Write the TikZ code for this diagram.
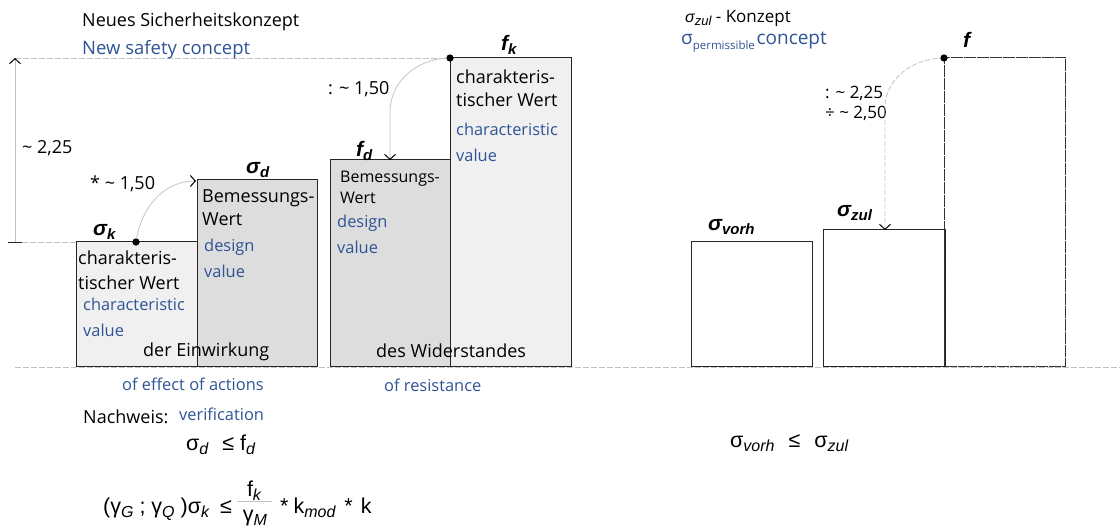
\documentclass[tikz,border=0pt]{standalone}
\usepackage{fontspec}
\setmainfont{Open Sans}
\newfontfamily\arialf{Liberation Sans}
\usetikzlibrary{arrows.meta}
\definecolor{engblue}{RGB}{47,84,150}
\definecolor{lightbox}{RGB}{240,240,240}
\definecolor{darkbox}{RGB}{221,221,221}
\definecolor{guide}{RGB}{195,195,195}
\newcommand\symlab[2]{{\arialf\bfseries\itshape\fontsize{21}{21}\selectfont #1\raisebox{-0.22em}{\fontsize{15}{15}\selectfont #2}}}
\newcommand\isub[1]{\raisebox{-0.22em}{\fontsize{16}{16}\selectfont\itshape #1}}
\tikzset{
  bar/.style={draw=black!85, line width=1.3pt, inner sep=0pt, anchor=south west},
  txt/.style={anchor=base west, inner sep=0pt, font=\fontsize{18}{20}\selectfont},
  smtxt/.style={anchor=base west, inner sep=0pt, font=\fontsize{16}{18}\selectfont},
  entxt/.style={anchor=base west, inner sep=0pt, text=engblue, font=\fontsize{16.4}{18}\selectfont},
  sym/.style={anchor=base west, inner sep=0pt},
  formula/.style={anchor=base west, inner sep=0pt, font=\arialf\fontsize{21.5}{24}\selectfont},
  dot/.style={circle, fill=black, inner sep=0pt, minimum size=7pt},
  guideline/.style={draw=guide, line width=0.8pt},
  dashguide/.style={guideline, dash pattern=on 6pt off 2pt},
  tipend/.style={-{Straight Barb[length=5pt,width=11pt,line width=1pt,color=black]}},
}
\begin{document}
\begin{tikzpicture}[x=1pt,y=-1pt]
\useasboundingbox (0,0) rectangle (1120,530);

% guide lines
\coordinate (dimlow) at (15,242);
\coordinate (dimtop) at (15,58);
\coordinate (ticka) at (8,242);
\coordinate (tickb) at (22,242);
\coordinate (basea) at (15,367);
\coordinate (baseb) at (1120,367);
\draw[dashguide] (basea) -- (baseb);
\draw[dashguide] (tickb) -- (76,242);
\draw[dashguide] (dimtop) -- (450,58);
\draw[guideline, tipend] (dimlow) -- (dimtop);
\draw[black!85, line width=1pt] (ticka) -- (tickb);

% left: actions
\node[bar, fill=lightbox, minimum width=121pt, minimum height=125pt] (sk) at (76,367) {};
\node[bar, fill=darkbox, minimum width=120pt, minimum height=187pt] (sd) at (197,367) {};
% resistance
\node[bar, fill=darkbox, minimum width=120pt, minimum height=207pt] (fd) at (330,367) {};
\node[bar, fill=lightbox, minimum width=121pt, minimum height=309pt] (fk) at (450,367) {};
% right
\node[bar, fill=white, minimum width=121pt, minimum height=125pt] (sv) at (691,367) {};
\node[bar, fill=white, minimum width=121pt, minimum height=137pt] (sz) at (823,367) {};
\node[bar, draw=black!80, dash pattern=on 12pt off 1pt, minimum width=121pt, minimum height=309pt] (ff) at (944,367) {};
\draw[black!85, line width=1.3pt] (sz.north east) -- (sz.south east);

% titles
\node[txt] (t1) at (82,27) {Neues Sicherheitskonzept};
\node[entxt, font=\fontsize{18.5}{20}\selectfont] (t2) at (82,54) {New safety concept};
\node[sym] (t3) at (685,22) {{\arialf\itshape\fontsize{16}{16}\selectfont σ\raisebox{-0.22em}{\fontsize{13}{13}\selectfont zul}}\fontsize{17}{18}\selectfont{} - Konzept};
\node[sym, text=engblue] (t4) at (681,45) {{\fontsize{19}{19}\selectfont σ}\raisebox{-0.42em}{\fontsize{11.5}{12}\selectfont permissible}\,{\fontsize{19}{19}\selectfont concept}};

% box texts
\node[txt] (sk1) at (78,264) {charakteris-};
\node[txt] (sk2) at (78,289) {tischer Wert};
\node[entxt] (sk3) at (83,310) {characteristic};
\node[entxt] (sk4) at (83,336) {value};
\node[txt] (sd1) at (202,202) {Bemessungs-};
\node[txt] (sd2) at (202,225) {Wert};
\node[entxt] (sd3) at (204,251) {design};
\node[entxt] (sd4) at (204,277) {value};
\node[txt] (ein) at (143,356) {der Einwirkung};

\node[smtxt] (fd1) at (340,182) {Bemessungs-};
\node[smtxt] (fd2) at (340,203) {Wert};
\node[entxt] (fd3) at (337,227) {design};
\node[entxt] (fd4) at (337,253) {value};
\node[txt] (fk1) at (456,83) {charakteris-};
\node[txt] (fk2) at (456,106) {tischer Wert};
\node[entxt] (fk3) at (456,135) {characteristic};
\node[entxt] (fk4) at (456,161) {value};
\node[txt] (wid) at (376,357) {des Widerstandes};

% symbol labels
\node[sym] (lsk) at (93,235) {\symlab{σ}{k}};
\node[sym] (lsd) at (246,173) {\symlab{σ}{d}};
\node[sym] (lfd) at (356,156) {\symlab{f}{d}};
\node[sym] (lfk) at (501,50) {\symlab{f}{k}};
\node[sym] (lsv) at (708,230) {\symlab{σ}{vorh}};
\node[sym] (lsz) at (837,216) {\symlab{σ}{zul}};
\node[sym] (lf) at (963,47) {\symlab{f}{}};

% factor labels
\node[txt] (f225) at (22,153) {\textasciitilde\ 2,25};
\node[txt] (f150a) at (90,189) {* \textasciitilde\ 1,50};
\node[txt] (f150b) at (328,94) {: \textasciitilde\ 1,50};
\node[txt, font=\fontsize{17}{18}\selectfont] (f225b) at (825,98) {: \textasciitilde\ 2,25};
\node[txt, font=\fontsize{17}{18}\selectfont] (f250) at (825,118) {÷ \textasciitilde\ 2,50};

% connectors
\node[dot] (dsk) at (136,242) {};
\node[dot] (dfk) at (450,58) {};
\node[dot] (dff) at (944,58) {};
\coordinate (sdtip) at (196,181);
\coordinate (fdbend) at (390,112);
\coordinate (fdtip) at (390,160);
\coordinate (szbend) at (885,108);
\coordinate (sztip) at (885,230);
\draw[guideline, tipend] (dsk.center) to[out=82,in=180] (sdtip);
\draw[guideline, tipend] (dfk.center) to[out=180,in=90] (fdbend) -- (fdtip);
\draw[guideline, dash pattern=on 5pt off 2pt, tipend] (dff.center) to[out=180,in=90] (szbend) -- (sztip);
\node[dot] at (dsk) {};
\node[dot] at (dfk) {};
\node[dot] at (dff) {};

% bottom texts
\node[entxt] (eff) at (122,390) {of effect of actions};
\node[entxt] (res) at (384,391) {of resistance};
\node[txt] (nach) at (83,423) {Nachweis:};
\node[entxt] (ver) at (179,420) {verification};
\node[formula] (eq1) at (186,450) {σ\isub{d}\hspace{14pt}≤\hspace{6pt}f\isub{d}};
\node[formula] (eq2a) at (103,513) {(γ\isub{G} ; γ\isub{Q} )σ\isub{k}\hspace{11pt}≤};
\node[formula, anchor=base] (num) at (254,496) {f\isub{k}};
\node[formula, anchor=base] (den) at (255,521) {γ\isub{M}};
\coordinate (bara) at (237,501);
\coordinate (barb) at (272,501);
\draw[guide, line width=0.9pt] (bara) -- (barb);
\node[formula] (eq2b) at (280,513) {*\hspace{5pt}k\isub{mod}\hspace{9pt}*\hspace{8pt}k};
\node[formula] (eq3) at (730,447) {σ\isub{vorh}\hspace{14pt}≤\hspace{14pt}σ\isub{zul}};
\end{tikzpicture}
\end{document}
